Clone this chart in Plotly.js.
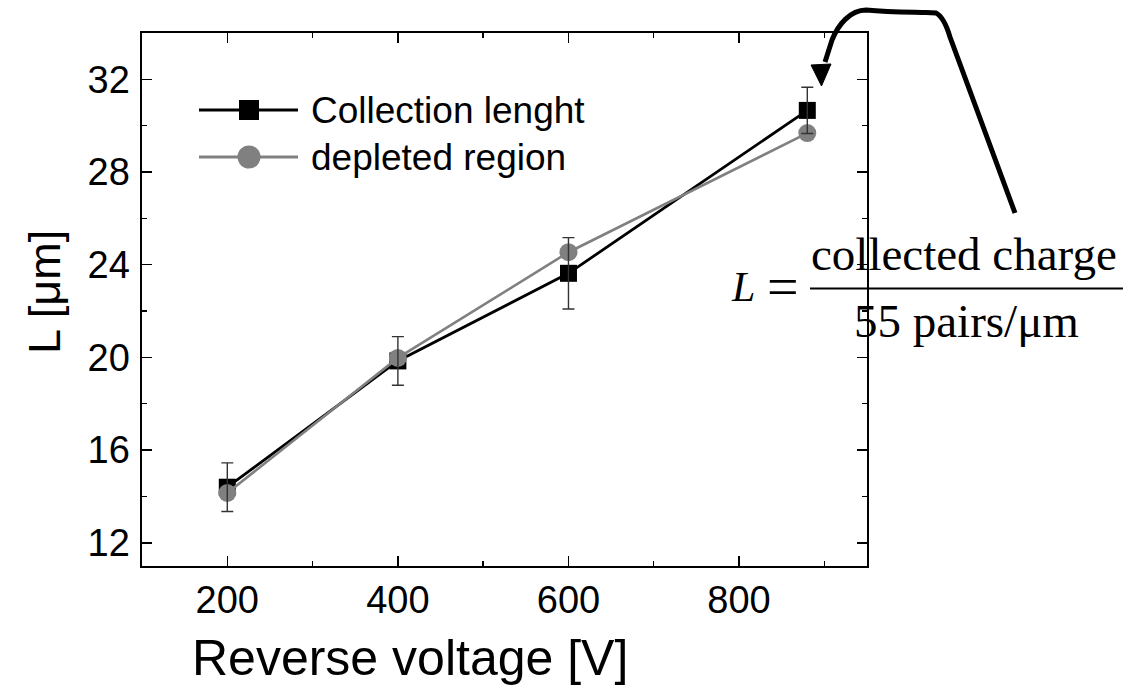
<!DOCTYPE html>
<html>
<head>
<meta charset="utf-8">
<script src="https://cdn.plot.ly/plotly-3.0.1.min.js"></script>
<style>
  html, body { margin: 0; padding: 0; background: #fff; }
  #plot { width: 1144px; height: 691px; }
</style>
</head>
<body>
<div id="plot"></div>
<script>
// Reverse bias voltage [V]
const voltage = [200, 400, 600, 880];
// Collection length from collected charge [um] and its uncertainty
const collectionLength = [14.4, 19.85, 23.63, 30.66];
const collectionErr = [1.05, 1.05, 1.54, 1.0];
// Width of the depleted region [um]
const depletedRegion = [14.15, 19.98, 24.54, 29.68];

const seriesNames = ['Collection lenght', 'depleted region'];
const xTitle = 'Reverse voltage [V]';
const yTitle = 'L [\u03bcm]';

// page geometry (pixels) used to place the legend, the formula and the arrow
const W = 1144, H = 691;
const M = { l: 142, r: 277, t: 33, b: 125 };
const PW = W - M.l - M.r, PH = H - M.t - M.b;
const px = x => (x - M.l) / PW;          // pixel x -> paper x
const py = y => (H - M.b - y) / PH;      // pixel y -> paper y
const path = pts => pts.map(p => typeof p === 'string' ? p : px(p[0]) + ',' + py(p[1])).join(' ');

const sans = 'Arial, "Liberation Sans", sans-serif';
const serif = '"Times New Roman", "Liberation Serif", serif';

const traces = [
  {
    x: voltage, y: collectionLength, name: seriesNames[0],
    type: 'scatter', mode: 'lines+markers',
    line: { color: '#000000', width: 2.8 },
    marker: { symbol: 'square', size: 17, color: '#000000' },
    showlegend: false, cliponaxis: false
  },
  {
    x: voltage, y: depletedRegion, name: seriesNames[1],
    type: 'scatter', mode: 'lines+markers',
    line: { color: '#808080', width: 2.6 },
    marker: { symbol: 'circle', size: 18, color: '#808080' },
    showlegend: false, cliponaxis: false
  },
  {
    // error bars of the collection length, kept on top of both series
    x: voltage, y: collectionLength,
    type: 'scatter', mode: 'markers',
    marker: { size: 1, opacity: 0 },
    error_y: { type: 'data', array: collectionErr, visible: true, color: '#333333', thickness: 1.4, width: 6 },
    showlegend: false, hoverinfo: 'skip', cliponaxis: false
  }
];

const axisCommon = {
  showline: true, linecolor: '#000', linewidth: 1.6, mirror: 'ticks',
  ticks: 'inside', ticklen: 10, tickwidth: 1.4, tickcolor: '#000',
  showgrid: false, zeroline: false,
  tickfont: { family: sans, size: 38, color: '#000' }
};

const shapes = [
  // legend samples
  { type: 'line', xref: 'paper', yref: 'paper', x0: px(199), x1: px(298), y0: py(110), y1: py(110), line: { color: '#000', width: 2.8 } },
  { type: 'rect', xref: 'paper', yref: 'paper', x0: px(239), x1: px(259), y0: py(100), y1: py(120), fillcolor: '#000', line: { width: 0 } },
  { type: 'line', xref: 'paper', yref: 'paper', x0: px(199), x1: px(298), y0: py(157), y1: py(157), line: { color: '#808080', width: 2.8 } },
  { type: 'circle', xref: 'paper', yref: 'paper', x0: px(237.5), x1: px(260.5), y0: py(145.5), y1: py(168.5), fillcolor: '#808080', line: { width: 0 } },
  // fraction bar of the formula
  { type: 'line', xref: 'paper', yref: 'paper', x0: px(810), x1: px(1123), y0: py(288.5), y1: py(288.5), line: { color: '#000', width: 2 } },
  // hand-drawn arrow pointing at the last point
  { type: 'path', xref: 'paper', yref: 'paper', layer: 'above',
    path: path(['M', [1015, 213], 'L', [950, 37], 'Q', [944, 17], [936, 13], 'L', [926, 12.5],
                'C', [905, 12], [888, 12], [866, 10], 'C', [850, 10], [838, 25], [832, 40], 'L', [825, 62]]),
    line: { color: '#000', width: 5 } },
  { type: 'path', xref: 'paper', yref: 'paper', layer: 'above',
    path: path(['M', [811, 65], 'L', [831, 64], 'L', [821.5, 86], 'Z']),
    fillcolor: '#000', line: { color: '#000', width: 1 } }
];

const annotations = [
  { xref: 'paper', yref: 'paper', x: px(309), y: py(110.5), xanchor: 'left', yanchor: 'middle',
    text: seriesNames[0], showarrow: false, font: { family: sans, size: 37, color: '#000' } },
  { xref: 'paper', yref: 'paper', x: px(309), y: py(158), xanchor: 'left', yanchor: 'middle',
    text: seriesNames[1], showarrow: false, font: { family: sans, size: 37, color: '#000' } },
  { xref: 'paper', yref: 'paper', x: px(410), y: py(658), xanchor: 'center', yanchor: 'middle',
    text: xTitle, showarrow: false, font: { family: sans, size: 50, color: '#000' } },
  { xref: 'paper', yref: 'paper', x: px(44), y: py(292), xanchor: 'center', yanchor: 'middle',
    text: yTitle, textangle: -90, showarrow: false, font: { family: sans, size: 45, color: '#000' } },
  // L = collected charge / 55 pairs/um
  { xref: 'paper', yref: 'paper', x: px(743), y: py(287), xanchor: 'center', yanchor: 'middle',
    text: '<i>L</i>', showarrow: false, font: { family: serif, size: 42, color: '#000' } },
  { xref: 'paper', yref: 'paper', x: px(783), y: py(287), xanchor: 'center', yanchor: 'middle',
    text: '=', showarrow: false, font: { family: serif, size: 56, color: '#000' } },
  { xref: 'paper', yref: 'paper', x: px(964), y: py(254), xanchor: 'center', yanchor: 'middle',
    text: 'collected charge', showarrow: false, font: { family: serif, size: 47, color: '#000' } },
  { xref: 'paper', yref: 'paper', x: px(966), y: py(321), xanchor: 'center', yanchor: 'middle',
    text: '55 pairs/\u03bcm', showarrow: false, font: { family: serif, size: 47, color: '#000' } }
];

const layout = {
  width: W, height: H,
  margin: M,
  paper_bgcolor: '#fff', plot_bgcolor: '#fff',
  showlegend: false,
  xaxis: Object.assign({}, axisCommon, {
    range: [100, 950], tick0: 0, dtick: 200, ticklabelstandoff: 0,
    minor: { dtick: 100, ticks: 'inside', ticklen: 5, tickwidth: 1.4, tickcolor: '#000', showgrid: false }
  }),
  yaxis: Object.assign({}, axisCommon, {
    range: [11, 34], tick0: 0, dtick: 4, ticklabelstandoff: 3,
    minor: { dtick: 2, ticks: 'inside', ticklen: 5, tickwidth: 1.4, tickcolor: '#000', showgrid: false }
  }),
  shapes: shapes,
  annotations: annotations
};

Plotly.newPlot('plot', traces, layout, { displayModeBar: false, staticPlot: true });
</script>
</body>
</html>
